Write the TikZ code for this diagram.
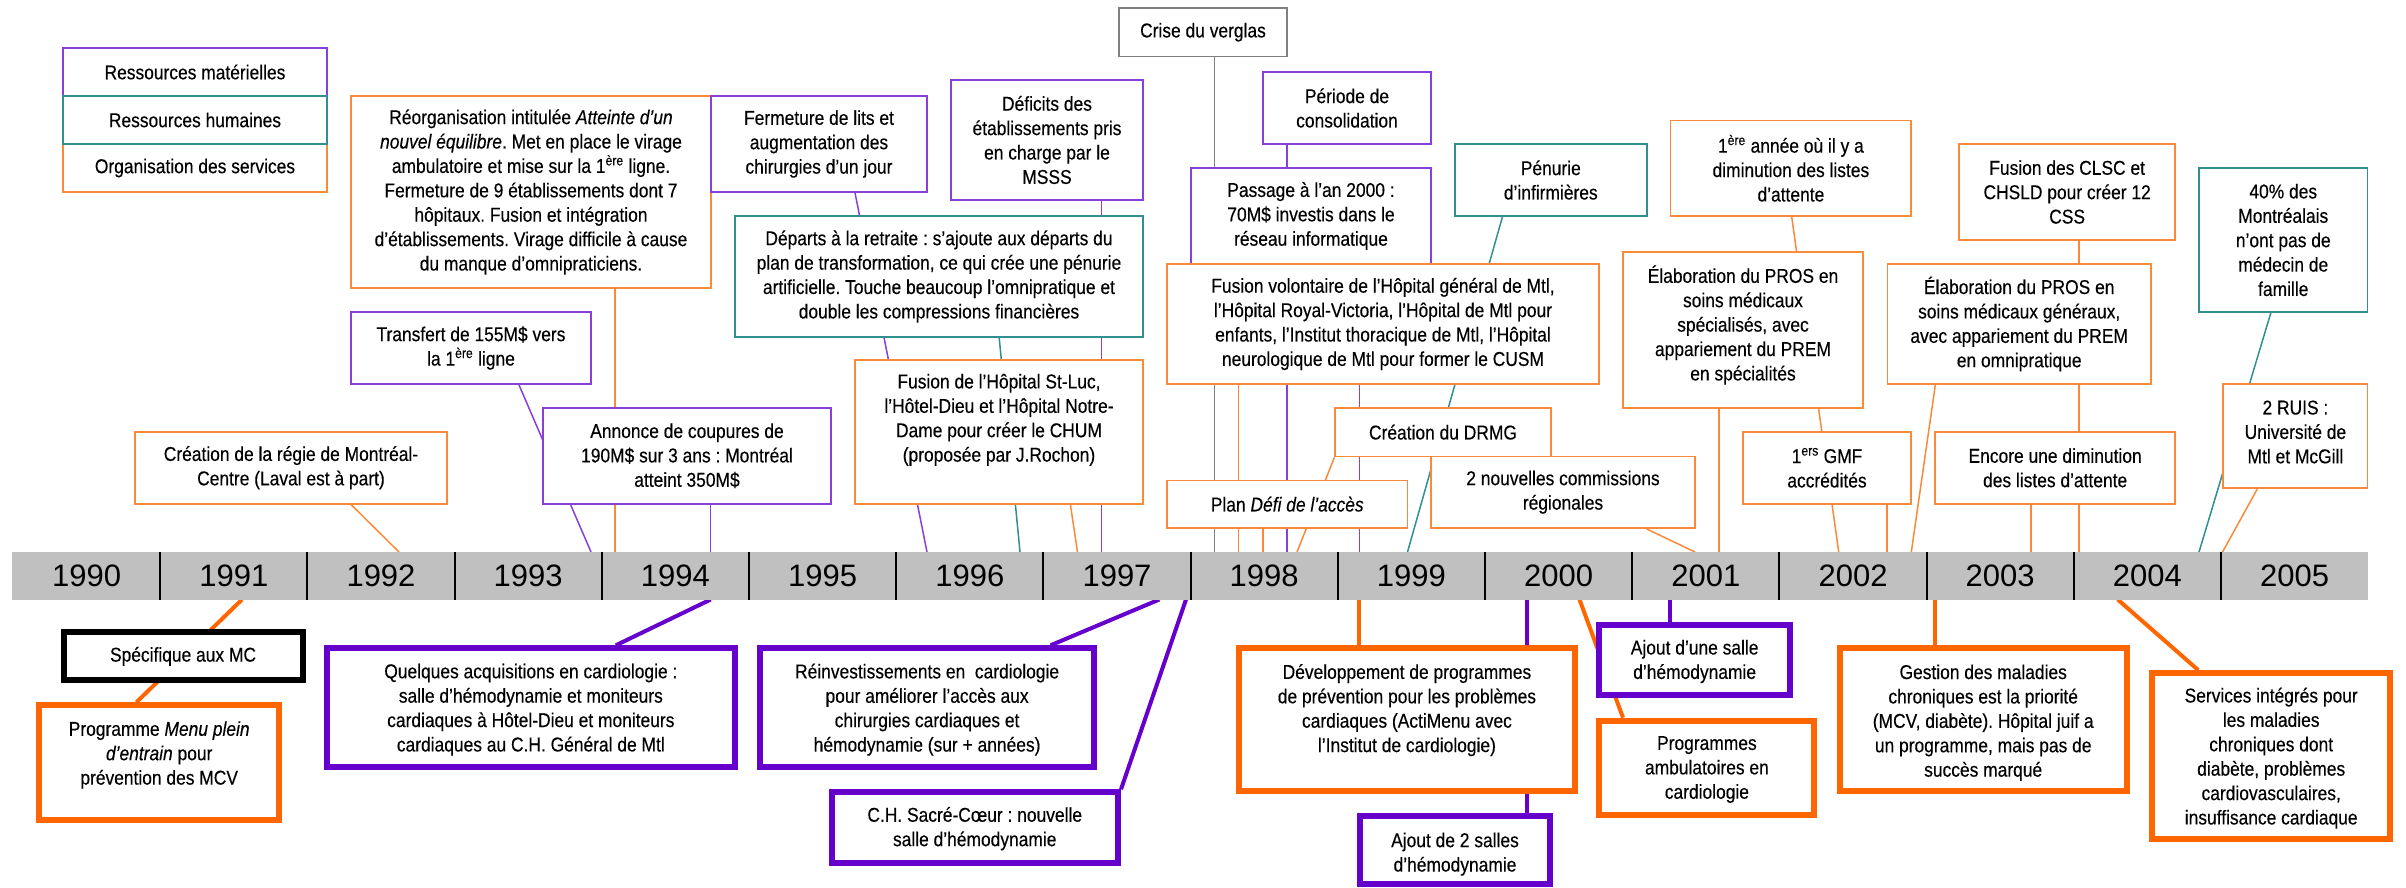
\documentclass[tikz,border=0pt]{standalone}
\usepackage{fontspec}
\setmainfont{Liberation Sans}[FakeStretch=0.87,FakeBold=0.3]
\newfontfamily\yearfont{Liberation Sans}
\usetikzlibrary{calc}
\frenchspacing

\definecolor{matT}{HTML}{8A40D8}   % ressources matérielles (fin)
\definecolor{humT}{HTML}{31908F}   % ressources humaines
\definecolor{orgT}{HTML}{F88A3A}   % organisation des services (fin)
\definecolor{matK}{HTML}{6600CC}   % cardiologie, matériel (épais)
\definecolor{orgK}{HTML}{FF6600}   % cardiologie, services (épais)
\definecolor{evtG}{HTML}{808080}   % événement externe
\definecolor{barG}{HTML}{C0C0C0}   % frise des années

\pgfdeclarelayer{bg}
\pgfsetlayers{bg,main}

\tikzset{
  thinbox/.style={draw=#1, line width=1.8pt, fill=white, inner sep=0pt},
  thickbox/.style={draw=#1, line width=6pt, fill=white, inner sep=0pt},
  evtext/.style={align=center, inner sep=0pt, font=\fontsize{20}{24.4}\selectfont},
  link/.style={draw=#1, line width=1.5pt},
  thicklink/.style={draw=#1, line width=4pt},
  yearlbl/.style={inner sep=0pt, font=\yearfont\fontsize{31}{31}\selectfont},
}

% #1 nom, #2 style, #3-#6 coins (x1,y1,x2,y2), #7 décalage du texte, #8 texte
\newcommand\evbox[8]{%
  \pgfmathsetmacro\evW{#5-#3}%
  \pgfmathsetmacro\evH{#6-#4}%
  \pgfmathsetmacro\evX{(#3+#5)/2}%
  \pgfmathsetmacro\evY{(#4+#6)/2}%
  \node[#2, minimum width=\evW pt, minimum height=\evH pt] (#1) at (\evX,\evY) {};
  \node[evtext] (#1-t) at ([yshift=#7 pt]#1.center) {#8};
}

\begin{document}
\begin{tikzpicture}[x=1pt, y=-1pt]
\useasboundingbox (0,0) rectangle (2406,887);

% frise chronologique
\node[fill=barG, minimum width=2356pt, minimum height=47.5pt, inner sep=0pt, outer sep=0pt, anchor=north west] (bar) at (12,552) {};
\foreach \i in {0,...,15} {
  \pgfmathtruncatemacro\yr{1990+\i}
  \node[yearlbl] (y\yr) at ({86.6+147.2*\i},576) {\yr};
}
\foreach \i in {1,...,15} {
  \draw[line width=2pt] ({13+147.2*\i},552) -- ({13+147.2*\i},599.5);
}

% légende
\evbox{leg1}{thinbox=matT}{63}{48}{327}{96}{0}{Ressources matérielles}
\evbox{leg3}{thinbox=orgT}{63}{144}{327}{192}{0}{Organisation des services}
\evbox{leg2}{thinbox=humT}{63}{96}{327}{144}{0}{Ressources humaines}

% événements au-dessus de la frise
\evbox{regie}{thinbox=orgT}{135}{432}{447}{503.6}{0}{Création de la régie de Montréal-\\Centre (Laval est à part)}
\evbox{reorg}{thinbox=orgT}{351}{96}{711}{288}{0}{Réorganisation intitulée \textit{Atteinte d’un}\\\textit{nouvel équilibre}. Met en place le virage\\ambulatoire et mise sur la 1\textsuperscript{ère} ligne.\\Fermeture de 9 établissements dont 7\\hôpitaux. Fusion et intégration\\d’établissements. Virage difficile à cause\\du manque d’omnipraticiens.}
\evbox{transfert}{thinbox=matT}{351}{312}{591}{384}{0}{Transfert de 155M\$ vers\\la 1\textsuperscript{ère} ligne}
\evbox{annonce}{thinbox=matT}{543}{408}{831}{503.6}{0}{Annonce de coupures de\\190M\$ sur 3 ans : Montréal\\atteint 350M\$}
\evbox{fermeture}{thinbox=matT}{711}{96}{927}{192}{0}{Fermeture de lits et\\augmentation des\\chirurgies d’un jour}
\evbox{deficits}{thinbox=matT}{951}{80}{1143}{200}{0}{Déficits des\\établissements pris\\en charge par le\\MSSS}
\evbox{departs}{thinbox=humT}{735}{216}{1143}{337}{0}{Départs à la retraite : s’ajoute aux départs du\\plan de transformation, ce qui crée une pénurie\\artificielle. Touche beaucoup l’omnipratique et\\double les compressions financières}
\evbox{stluc}{thinbox=orgT}{855}{360}{1143}{503.6}{12}{Fusion de l’Hôpital St-Luc,\\l’Hôtel-Dieu et l’Hôpital Notre-\\Dame pour créer le CHUM\\(proposée par J.Rochon)}
\evbox{verglas}{thinbox=evtG}{1119}{8}{1287}{56.4}{0}{Crise du verglas}
\evbox{consol}{thinbox=matT}{1263}{72}{1431}{144}{0}{Période de\\consolidation}
\evbox{passage}{thinbox=matT}{1191}{168}{1431}{264}{0}{Passage à l’an 2000 :\\70M\$ investis dans le\\réseau informatique}
\evbox{cusm}{thinbox=orgT}{1167}{264}{1599}{384}{0}{Fusion volontaire de l’Hôpital général de Mtl,\\l’Hôpital Royal-Victoria, l’Hôpital de Mtl pour\\enfants, l’Institut thoracique de Mtl, l’Hôpital\\neurologique de Mtl pour former le CUSM}
\evbox{defi}{thinbox=orgT}{1167}{480.4}{1407.5}{528}{0}{Plan \textit{Défi de l’accès}}
\evbox{drmg}{thinbox=orgT}{1335}{408}{1551}{456.4}{0}{Création du DRMG}
\evbox{commissions}{thinbox=orgT}{1431}{456.4}{1695}{528}{0}{2 nouvelles commissions\\régionales}
\evbox{penurie}{thinbox=humT}{1455}{144}{1646.6}{216}{0}{Pénurie\\d’infirmières}
\evbox{attente1}{thinbox=orgT}{1670.5}{120.4}{1911.3}{216}{0}{1\textsuperscript{ère} année où il y a\\diminution des listes\\d’attente}
\evbox{prosspec}{thinbox=orgT}{1623}{252}{1863}{408}{5}{Élaboration du PROS en\\soins médicaux\\spécialisés, avec\\appariement du PREM\\en spécialités}
\evbox{gmf}{thinbox=orgT}{1742.7}{432}{1911.3}{503.6}{0}{1\textsuperscript{ers} GMF\\accrédités}
\evbox{clsc}{thinbox=orgT}{1959.3}{144}{2175}{240}{0}{Fusion des CLSC et\\CHSLD pour créer 12\\CSS}
\evbox{prosgen}{thinbox=orgT}{1887.4}{264}{2151}{384}{0}{Élaboration du PROS en\\soins médicaux généraux,\\avec appariement du PREM\\en omnipratique}
\evbox{attente2}{thinbox=orgT}{1935.3}{432}{2175}{503.6}{0}{Encore une diminution\\des listes d’attente}
\evbox{medecin}{thinbox=humT}{2199}{168}{2367.5}{312}{0}{40\% des\\Montréalais\\n’ont pas de\\médecin de\\famille}
\evbox{ruis}{thinbox=orgT}{2223.3}{384}{2367.5}{488}{4}{2 RUIS :\\Université de\\Mtl et McGill}

% cardiologie, sous la frise
\evbox{specifique}{thickbox=black}{63.5}{632.3}{302.6}{680.3}{0}{Spécifique aux MC}
\evbox{programme}{thickbox=orgK}{39.4}{705.3}{279}{819.7}{7.5}{Programme \textit{Menu plein}\\\textit{d’entrain} pour\\prévention des MCV}
\evbox{quelques}{thickbox=matK}{327.2}{648.3}{734.5}{767}{-2}{Quelques acquisitions en cardiologie :\\salle d’hémodynamie et moniteurs\\cardiaques à Hôtel-Dieu et moniteurs\\cardiaques au C.H. Général de Mtl}
\evbox{reinvest}{thickbox=matK}{760}{648.3}{1094.2}{767}{-2}{Réinvestissements en \ cardiologie\\pour améliorer l’accès aux\\chirurgies cardiaques et\\hémodynamie (sur + années)}
\evbox{sacre}{thickbox=matK}{831.5}{792.3}{1118}{863}{-1}{C.H. Sacré-Cœur : nouvelle\\salle d’hémodynamie}
\evbox{develop}{thickbox=orgK}{1239.4}{648.3}{1574.5}{791}{9.5}{Développement de programmes\\de prévention pour les problèmes\\cardiaques (ActiMenu avec\\l’Institut de cardiologie)}
\evbox{ajout2}{thickbox=matK}{1360}{816.3}{1550}{884}{-4}{Ajout de 2 salles\\d’hémodynamie}
\evbox{ajout1}{thickbox=matK}{1599.4}{624.7}{1789.9}{695.3}{-1.5}{Ajout d’une salle\\d’hémodynamie}
\evbox{ambul}{thickbox=orgK}{1599.4}{720.7}{1814.4}{815.3}{-1.5}{Programmes\\ambulatoires en\\cardiologie}
\evbox{gestion}{thickbox=orgK}{1839.7}{648.3}{2126.7}{791}{-3}{Gestion des maladies\\chroniques est la priorité\\(MCV, diabète). Hôpital juif a\\un programme, mais pas de\\succès marqué}
\evbox{services}{thickbox=orgK}{2152}{673}{2390.4}{839.3}{-2}{Services intégrés pour\\les maladies\\chroniques dont\\diabète, problèmes\\cardiovasculaires,\\insuffisance cardiaque}

% liaisons vers la frise (sous les boîtes)
\begin{pgfonlayer}{bg}
\draw[link=orgT] (regie.south -| 351,0) -- (399,0 |- bar.north);
\draw[link=orgT] (reorg.south -| 615,0) -- (615,0 |- bar.north);
\draw[link=matT] (transfert.south -| 519,0) -- (591,0 |- bar.north);
\draw[link=matT] (annonce.south -| 710.7,0) -- (710.7,0 |- bar.north);
\draw[link=matT] (fermeture.south -| 855,0) -- (927,0 |- bar.north);
\draw[link=matT] (deficits.south -| 1101.6,0) -- (1101.6,0 |- bar.north);
\draw[link=humT] (departs.south -| 999.2,0) -- (1020,0 |- bar.north);
\draw[link=orgT] (stluc.south -| 1070.4,0) -- (1077.5,0 |- bar.north);
\draw[link=evtG] (verglas.south -| 1214.6,0) -- (1214.6,0 |- bar.north);
\draw[link=matT] (consol.south -| 1287,0) -- (1287,0 |- bar.north);
\draw[link=matT] (passage.south -| 1359.3,0) -- (1359.3,0 |- bar.north);
\draw[link=orgT] (cusm.south -| 1238.7,0) -- (1238.7,0 |- bar.north);
\draw[link=orgT] (defi.south -| 1263,0) -- (1263,0 |- bar.north);
\draw[link=orgT] (drmg.south -| 1334.4,0) -- (1297,0 |- bar.north);
\draw[link=humT] (penurie.south -| 1502.4,0) -- (1407.5,0 |- bar.north);
\draw[link=orgT] (commissions.south -| 1646.6,0) -- (1695,0 |- bar.north);
\draw[link=orgT] (attente1.south -| 1791.7,0) -- (1838.7,0 |- bar.north);
\draw[link=orgT] (prosspec.south -| 1719,0) -- (1719,0 |- bar.north);
\draw[link=orgT] (gmf.south -| 1887,0) -- (1887,0 |- bar.north);
\draw[link=orgT] (clsc.south -| 2079,0) -- (2079,0 |- bar.north);
\draw[link=orgT] (prosgen.south -| 1935.3,0) -- (1911.3,0 |- bar.north);
\draw[link=orgT] (attente2.south -| 2031,0) -- (2031,0 |- bar.north);
\draw[link=humT] (medecin.south -| 2270.8,0) -- (2199,0 |- bar.north);
\draw[link=orgT] (ruis.south -| 2257.3,0) -- (2222.5,0 |- bar.north);

\draw[thicklink=orgK] (242,0 |- bar.south) -- (programme.north -| 136.4,0);
\draw[thicklink=matK] (710.7,0 |- bar.south) -- (quelques.north -| 615.8,0);
\draw[thicklink=matK] (1159.3,0 |- bar.south) -- (reinvest.north -| 1050.6,0);
\draw[thicklink=matK] (1186,0 |- bar.south) -- (sacre.north east);
\draw[thicklink=orgK] (1359.3,0 |- bar.south) -- (develop.north -| 1359.3,0);
\draw[thicklink=matK] (1526.5,0 |- bar.south) -- (ajout2.north -| 1526.5,0);
\draw[thicklink=matK] (1670.4,0 |- bar.south) -- (ajout1.north -| 1670.4,0);
\draw[thicklink=orgK] (1579.5,0 |- bar.south) -- (ambul.north -| 1623,0);
\draw[thicklink=orgK] (1935.3,0 |- bar.south) -- (gestion.north -| 1935.3,0);
\draw[thicklink=orgK] (2117.7,0 |- bar.south) -- (services.north -| 2198.1,0);
\end{pgfonlayer}
\end{tikzpicture}
\end{document}
